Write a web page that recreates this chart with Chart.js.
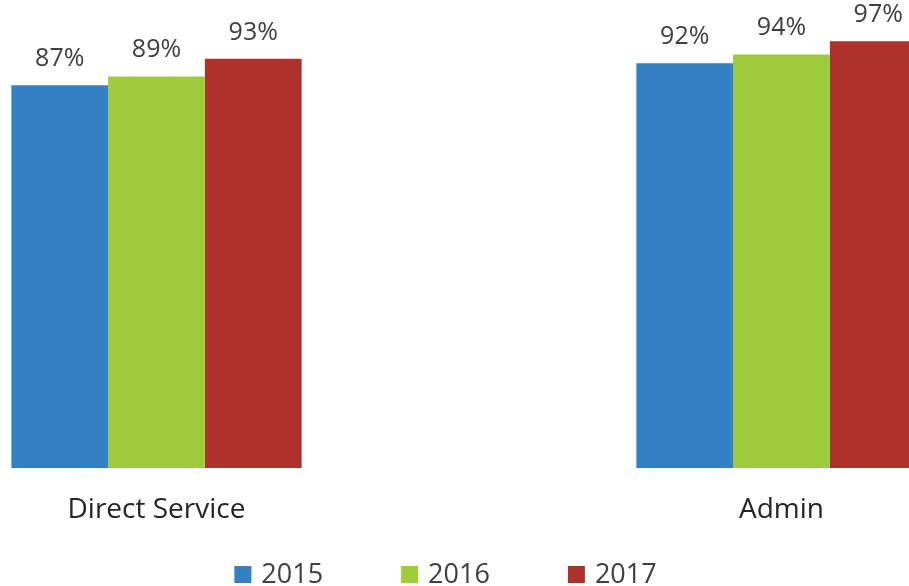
<!DOCTYPE html>
<html>
<head>
<meta charset="utf-8">
<script src="https://cdn.jsdelivr.net/npm/chart.js@4.4.1/dist/chart.umd.min.js"></script>
<style>
  html, body { margin: 0; padding: 0; background: #fff; overflow: hidden; }
  body { width: 909px; height: 586px; position: relative; }
  /* plot is wider than the window: the outer gaps of the category bands fall off-screen */
  #wrap { position: absolute; left: -156px; top: 0; width: 1250px; height: 586px; }
</style>
</head>
<body>
<div id="wrap"><canvas id="chart"></canvas></div>
<script>
// chart data
const categories = ['Direct Service', 'Admin'];
const years = ['2015', '2016', '2017'];
const values2015 = [87, 92];
const values2016 = [89, 94];
const values2017 = [93, 97];
const yTicks = [0, 100];  // axis range (hidden)

const colors = ['#3380C3', '#9ECB3B', '#AE312B'];
const FONT = '"Open Sans", "Liberation Sans", sans-serif';

// value labels above each bar
const barLabels = {
  id: 'barLabels',
  afterDatasetsDraw(chart) {
    const ctx = chart.ctx;
    ctx.save();
    ctx.font = '25px ' + FONT;
    ctx.fillStyle = '#404040';
    ctx.textAlign = 'center';
    ctx.textBaseline = 'alphabetic';
    chart.data.datasets.forEach((ds, i) => {
      chart.getDatasetMeta(i).data.forEach((bar, j) => {
        ctx.fillText(ds.data[j] + '%', bar.x, bar.y - 19);
      });
    });
    ctx.restore();
  }
};

// legend row at the bottom (square + year)
const bottomLegend = {
  id: 'bottomLegend',
  afterDraw(chart) {
    const ctx = chart.ctx;
    const box = 17, gap = 10, spacing = 78;
    ctx.save();
    ctx.font = '27px ' + FONT;
    const widths = chart.data.datasets.map(ds => ctx.measureText(ds.label).width);
    const total = widths.reduce((a, w) => a + box + gap + w, 0) + spacing * (widths.length - 1);
    let x = 601.5 - total / 2;
    const base = 583;
    chart.data.datasets.forEach((ds, i) => {
      ctx.fillStyle = ds.backgroundColor;
      ctx.fillRect(x, base - box, box, box);
      ctx.fillStyle = '#404040';
      ctx.textAlign = 'left';
      ctx.textBaseline = 'alphabetic';
      ctx.fillText(ds.label, x + box + gap, base);
      x += box + gap + widths[i] + spacing;
    });
    ctx.restore();
  }
};

const seriesValues = [values2015, values2016, values2017];

new Chart(document.getElementById('chart'), {
  type: 'bar',
  data: {
    labels: categories,
    datasets: years.map((y, i) => ({
      label: y,
      data: seriesValues[i],
      backgroundColor: colors[i],
      borderWidth: 0,
      categoryPercentage: 0.4644,
      barPercentage: 1
    }))
  },
  options: {
    responsive: true,
    maintainAspectRatio: false,
    animation: false,
    layout: { padding: { top: 28, left: 0, right: 0, bottom: 0 } },
    plugins: {
      legend: { display: false },
      tooltip: { enabled: false }
    },
    scales: {
      x: {
        grid: { display: false, drawTicks: false },
        border: { display: false },
        ticks: {
          padding: 25,
          color: '#262626',
          font: { family: FONT, size: 28 }
        },
        afterFit: scale => { scale.height = 118; }
      },
      y: {
        display: false,
        min: yTicks[0],
        max: yTicks[1]
      }
    }
  },
  plugins: [barLabels, bottomLegend]
});
</script>
</body>
</html>
